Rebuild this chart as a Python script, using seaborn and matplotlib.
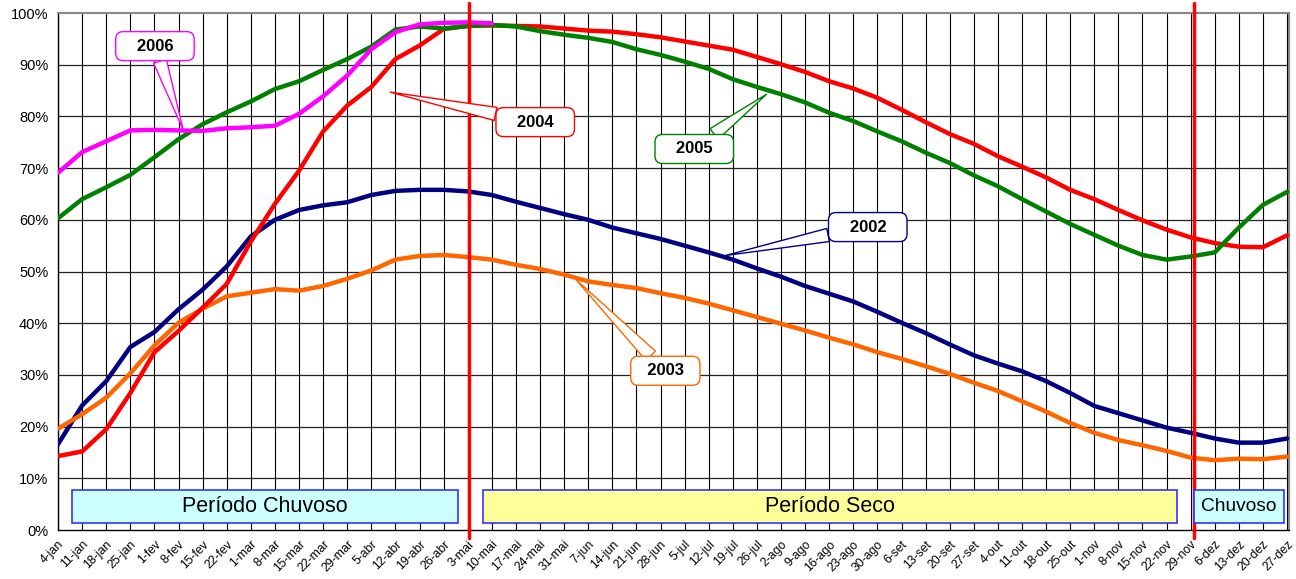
import numpy as np
import pandas as pd
import matplotlib
matplotlib.use("Agg")
import matplotlib.pyplot as plt
import seaborn as sns

semanas = ["4-jan", "11-jan", "18-jan", "25-jan", "1-fev", "8-fev", "15-fev", "22-fev",
           "1-mar", "8-mar", "15-mar", "22-mar", "29-mar", "5-abr", "12-abr", "19-abr",
           "26-abr", "3-mai", "10-mai", "17-mai", "24-mai", "31-mai", "7-jun", "14-jun",
           "21-jun", "28-jun", "5-jul", "12-jul", "19-jul", "26-jul", "2-ago", "9-ago",
           "16-ago", "23-ago", "30-ago", "6-set", "13-set", "20-set", "27-set", "4-out",
           "11-out", "18-out", "25-out", "1-nov", "8-nov", "15-nov", "22-nov", "29-nov",
           "6-dez", "13-dez", "20-dez", "27-dez"]

v2002 = [16.6, 24.1, 28.8, 35.4, 38.3, 42.7, 46.5, 51.0, 56.8, 60.0, 61.9, 62.8, 63.4,
         64.8, 65.6, 65.8, 65.8, 65.5, 64.8, 63.5, 62.3, 61.1, 60.0, 58.5, 57.4, 56.3,
         55.0, 53.7, 52.3, 50.6, 49.0, 47.2, 45.7, 44.2, 42.2, 40.1, 38.1, 35.9, 33.8,
         32.2, 30.7, 28.8, 26.5, 24.0, 22.6, 21.2, 19.8, 18.8, 17.7, 16.9, 16.9, 17.7]
v2003 = [19.6, 22.4, 25.6, 30.3, 35.7, 40.1, 42.8, 45.2, 45.9, 46.6, 46.3, 47.2, 48.6,
         50.2, 52.3, 53.0, 53.2, 52.8, 52.3, 51.3, 50.5, 49.4, 48.1, 47.4, 46.8, 45.8,
         44.9, 43.8, 42.5, 41.2, 39.9, 38.6, 37.2, 35.9, 34.4, 33.1, 31.7, 30.2, 28.5,
         26.9, 24.9, 22.9, 20.7, 18.8, 17.4, 16.4, 15.3, 14.0, 13.5, 13.8, 13.7, 14.2]
v2004 = [14.3, 15.2, 19.5, 26.5, 34.4, 38.5, 43.0, 47.6, 55.8, 63.1, 69.5, 77.1, 82.1,
         85.7, 91.1, 93.7, 96.9, 97.5, 97.6, 97.5, 97.4, 97.0, 96.6, 96.4, 95.9, 95.3,
         94.5, 93.7, 92.9, 91.5, 90.1, 88.6, 86.8, 85.4, 83.6, 81.3, 78.9, 76.6, 74.7,
         72.3, 70.3, 68.2, 65.8, 64.0, 61.9, 59.9, 58.1, 56.6, 55.5, 54.8, 54.7, 57.0]
v2005 = [60.3, 64.0, 66.3, 68.7, 72.1, 75.6, 78.5, 80.8, 82.9, 85.3, 86.8, 89.0, 91.1,
         93.5, 96.8, 97.4, 97.0, 97.5, 97.7, 97.4, 96.5, 95.8, 95.2, 94.4, 93.0, 91.9,
         90.6, 89.2, 87.2, 85.7, 84.3, 82.7, 80.7, 79.1, 77.1, 75.2, 73.0, 71.0, 68.6,
         66.5, 64.0, 61.6, 59.2, 57.1, 55.0, 53.2, 52.3, 52.9, 53.7, 58.5, 62.9, 65.4]
v2006 = [69.1, 73.1, 75.2, 77.3, 77.4, 77.3, 77.2, 77.7, 77.9, 78.2, 80.5, 83.9, 87.9,
         93.0, 96.3, 97.8, 98.1, 98.2, 98.0]

anos = ["2002", "2003", "2004", "2005", "2006"]
cores = {"2002": "#000080", "2003": "#FF6600", "2004": "#FF0000",
         "2005": "#008000", "2006": "#FF00FF"}

linhas = []
for ano, vals in zip(anos, [v2002, v2003, v2004, v2005, v2006]):
    for i, v in enumerate(vals):
        linhas.append({"semana": i, "valor": v, "ano": ano})
df = pd.DataFrame(linhas)

sns.set_theme(style="white")
plt.rcParams["font.family"] = ["Liberation Sans", "DejaVu Sans"]
plt.rcParams["text.color"] = "black"
plt.rcParams["xtick.color"] = "black"
plt.rcParams["ytick.color"] = "black"

fig = plt.figure(figsize=(12.96, 5.79), dpi=100)
ax = fig.add_axes([0.0448, 0.0846, 0.9498, 0.8929])

# vertical and horizontal grid
for i in range(len(semanas)):
    ax.axvline(i, color="black", lw=0.8, zorder=1)
for y in range(10, 100, 10):
    ax.axhline(y, color="#222222", lw=0.9, zorder=1)

sns.lineplot(data=df, x="semana", y="valor", hue="ano", palette=cores,
             hue_order=anos, lw=3.2, legend=False, ax=ax, zorder=3)

ax.set_xlim(0, 51.08)
ax.set_ylim(0, 100)
ax.set_yticks(range(0, 101, 10))
ax.set_yticklabels([f"{y}%" for y in range(0, 101, 10)], fontsize=10.5)
ax.set_xticks(range(len(semanas)))
ax.set_xticklabels(semanas, rotation=45, ha="right", rotation_mode="anchor", fontsize=8.8)
ax.tick_params(axis="x", length=4, width=0.8, pad=2)
ax.tick_params(axis="y", length=4, width=0.8, pad=3)
ax.set_xlabel("")
ax.set_ylabel("")
for lado in ["top", "right"]:
    ax.spines[lado].set_color("#888888")
    ax.spines[lado].set_linewidth(1.5)
for lado in ["left", "bottom"]:
    ax.spines[lado].set_color("black")
    ax.spines[lado].set_linewidth(1)

# period separators
for xs in [17.05, 47.15]:
    ax.plot([xs, xs], [-1.6, 101.9], color="#FF0000", lw=2.5, clip_on=False, zorder=4)

# period boxes
periodos = [("Período Chuvoso", 0.58, 16.6, "#CCFFFF", 15.5),
            ("Período Seco", 17.63, 46.43, "#FFFF99", 15.5),
            ("Chuvoso", 47.14, 50.87, "#CCFFFF", 13.8)]
for nome, x0, x1, cor, fs in periodos:
    ax.add_patch(plt.Rectangle((x0, 1.4), x1 - x0, 6.3, facecolor=cor,
                               edgecolor="#3333FF", lw=1.2, zorder=5))
    ax.text((x0 + x1) / 2, 4.55, nome, ha="center", va="center", fontsize=fs, zorder=6)

# callouts
callouts = [("2006", (5.19, 77.4), (4.02, 93.6), 3),
            ("2004", (13.78, 84.7), (19.8, 78.9), 3),
            ("2005", (29.4, 84.3), (26.4, 73.7), 3),
            ("2002", (27.7, 53.1), (33.6, 58.6), 3),
            ("2003", (21.5, 48.4), (25.2, 30.8), 2)]
for ano, ponto, texto, esp in callouts:
    ax.annotate(" " * esp + ano + " " * esp, xy=ponto, xytext=texto,
                ha="center", va="center",
                fontsize=12, fontweight="bold", zorder=7,
                bbox=dict(boxstyle="round,pad=0.42,rounding_size=0.45", fc="white",
                          ec=cores[ano], lw=1),
                arrowprops=dict(arrowstyle="wedge,tail_width=0.8,shrink_factor=0.5",
                                fc="white", ec=cores[ano], lw=1, shrinkA=0, shrinkB=0))

fig.savefig("out.png", dpi=100)
